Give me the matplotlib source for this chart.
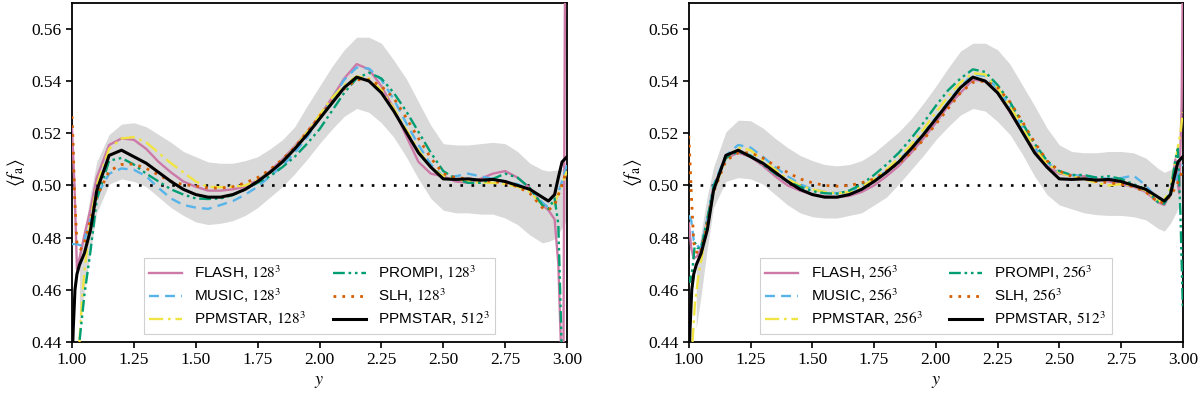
import matplotlib
matplotlib.use("Agg")
import matplotlib.pyplot as plt

# shared x grid (interior), per-series head/tail points near the boundaries
Y_GRID = [1.10, 1.15, 1.20, 1.25, 1.30, 1.35, 1.40, 1.45, 1.50, 1.55, 1.60, 1.65,
          1.70, 1.75, 1.80, 1.85, 1.90, 1.95, 2.00, 2.05, 2.10, 2.15, 2.20, 2.25,
          2.30, 2.35, 2.40, 2.45, 2.50, 2.55, 2.60, 2.65, 2.70, 2.75, 2.80, 2.85, 2.90]

# ---- PPMSTAR 512^3 reference (both panels)
ref_head_y = [1.0, 1.005, 1.012, 1.02, 1.03, 1.05, 1.075]
ref_head_f = [0.43, 0.445, 0.46, 0.466, 0.4695, 0.474, 0.483]
ref_mid_f = [0.498, 0.5115, 0.5135, 0.511, 0.5085, 0.505, 0.5015, 0.4985, 0.4965, 0.4955,
             0.4955, 0.4965, 0.4985, 0.5015, 0.505, 0.509, 0.514, 0.5195, 0.5255, 0.5315,
             0.5375, 0.5415, 0.540, 0.5355, 0.5285, 0.5205, 0.5125, 0.507, 0.5025, 0.5023,
             0.5025, 0.502, 0.5023, 0.5015, 0.500, 0.4985, 0.4955]
ref_tail_y = [2.925, 2.95, 2.965, 2.98, 3.0]
ref_tail_f = [0.494, 0.4965, 0.503, 0.509, 0.511]

# ---- 128^3 panel
flash128_head_y = [1.0, 1.01, 1.02, 1.03, 1.05, 1.075]
flash128_head_f = [0.522, 0.50, 0.468, 0.472, 0.481, 0.491]
flash128_mid_f = [0.503, 0.5155, 0.518, 0.5175, 0.514, 0.509, 0.505, 0.5015, 0.4995, 0.498,
                  0.498, 0.4985, 0.4995, 0.502, 0.5055, 0.510, 0.515, 0.5205, 0.5265, 0.5335,
                  0.541, 0.5465, 0.5445, 0.538, 0.5295, 0.519, 0.509, 0.5045, 0.5035, 0.5015,
                  0.501, 0.5025, 0.5045, 0.5055, 0.503, 0.499, 0.4925]
flash128_tail_y = [2.925, 2.95, 2.965, 2.975, 2.985, 2.993, 3.0]
flash128_tail_f = [0.4905, 0.487, 0.47, 0.44, 0.42, 0.60, 0.60]

music128_head_y = [1.0, 1.01, 1.02, 1.035, 1.05, 1.075]
music128_head_f = [0.4775, 0.4775, 0.4775, 0.477, 0.479, 0.487]
music128_mid_f = [0.496, 0.5045, 0.5065, 0.506, 0.5035, 0.499, 0.495, 0.4925, 0.4915, 0.491,
                  0.4925, 0.494, 0.4965, 0.4995, 0.5035, 0.5075, 0.5125, 0.5185, 0.5255, 0.533,
                  0.5405, 0.5452, 0.5448, 0.5405, 0.533, 0.524, 0.5155, 0.508, 0.5035, 0.5035,
                  0.5045, 0.5035, 0.5025, 0.5015, 0.5005, 0.4985, 0.4935]
music128_tail_y = [2.925, 2.95, 2.975, 3.0]
music128_tail_f = [0.4915, 0.4935, 0.500, 0.508]

ppm128_head_y = [1.03, 1.04, 1.05, 1.075]
ppm128_head_f = [0.44, 0.455, 0.467, 0.487]
ppm128_mid_f = [0.500, 0.514, 0.518, 0.5185, 0.5165, 0.5125, 0.5085, 0.505, 0.5015, 0.4995,
                0.4993, 0.4995, 0.500, 0.502, 0.505, 0.509, 0.5145, 0.5205, 0.527, 0.5335,
                0.5385, 0.5418, 0.541, 0.5365, 0.5295, 0.5215, 0.5135, 0.507, 0.5035, 0.5025,
                0.5015, 0.501, 0.501, 0.5005, 0.4995, 0.4975, 0.4925]
ppm128_tail_y = [2.925, 2.95, 2.975, 3.0]
ppm128_tail_f = [0.491, 0.4935, 0.499, 0.5055]

prompi128_head_y = [1.02, 1.03, 1.05, 1.075]
prompi128_head_f = [0.43, 0.44, 0.458, 0.475]
prompi128_mid_f = [0.4945, 0.5095, 0.5105, 0.508, 0.5045, 0.5015, 0.4985, 0.4965, 0.495, 0.4948,
                   0.495, 0.4963, 0.4985, 0.501, 0.5035, 0.507, 0.511, 0.516, 0.5215, 0.5285,
                   0.5355, 0.541, 0.5432, 0.541, 0.5355, 0.5285, 0.5205, 0.5125, 0.5055, 0.5025,
                   0.501, 0.501, 0.5025, 0.5045, 0.503, 0.499, 0.4925]
prompi128_tail_y = [2.925, 2.95, 2.965, 2.975, 2.98, 3.0]
prompi128_tail_f = [0.491, 0.495, 0.485, 0.45, 0.43, 0.43]

slh128_head_y = [1.0, 1.005, 1.01, 1.02, 1.035, 1.05, 1.075]
slh128_head_f = [0.5265, 0.515, 0.497, 0.478, 0.4755, 0.478, 0.487]
slh128_mid_f = [0.4955, 0.5055, 0.508, 0.5082, 0.5065, 0.504, 0.5015, 0.5003, 0.4998, 0.499,
                0.499, 0.4995, 0.501, 0.503, 0.506, 0.510, 0.5145, 0.5205, 0.5265, 0.532,
                0.537, 0.5405, 0.5405, 0.538, 0.5335, 0.526, 0.518, 0.5105, 0.5045, 0.503,
                0.5025, 0.502, 0.5015, 0.501, 0.4995, 0.497, 0.4915]
slh128_tail_y = [2.925, 2.95, 2.975, 3.0]
slh128_tail_f = [0.4905, 0.4925, 0.499, 0.506]

band128_head_y = [1.03, 1.05, 1.075]
band128_tail_y = [2.925, 2.95, 2.975, 3.0]
band128_hi = [0.472, 0.482, 0.497,
              0.509, 0.5195, 0.5235, 0.524, 0.5225, 0.5195, 0.5165, 0.513, 0.511, 0.509,
              0.5085, 0.5085, 0.5095, 0.511, 0.514, 0.5175, 0.5225, 0.5305, 0.538, 0.5455,
              0.552, 0.5568, 0.5568, 0.5545, 0.548, 0.541, 0.532, 0.523, 0.516, 0.5155,
              0.5155, 0.516, 0.5165, 0.516, 0.513, 0.5085, 0.506,
              0.5055, 0.5058, 0.506, 0.508]
band128_lo = [0.447, 0.46, 0.475,
              0.4895, 0.5005, 0.5025, 0.5015, 0.4995, 0.4955, 0.4915, 0.4885, 0.486, 0.485,
              0.4855, 0.4865, 0.4885, 0.4915, 0.4955, 0.4995, 0.5045, 0.510, 0.516, 0.5215,
              0.5265, 0.5295, 0.528, 0.524, 0.5185, 0.511, 0.5025, 0.495, 0.4905, 0.4895,
              0.4895, 0.489, 0.489, 0.4875, 0.485, 0.481, 0.478,
              0.4785, 0.4795, 0.483, 0.487]

# ---- 256^3 panel
flash256_head_y = [1.0, 1.01, 1.02, 1.035, 1.05, 1.075]
flash256_head_f = [0.4855, 0.476, 0.472, 0.473, 0.476, 0.487]
flash256_mid_f = [0.4995, 0.5105, 0.5125, 0.511, 0.5075, 0.5035, 0.500, 0.498, 0.4965, 0.4958,
                  0.4955, 0.496, 0.4975, 0.500, 0.5035, 0.5075, 0.5125, 0.518, 0.524, 0.5305,
                  0.5355, 0.5405, 0.540, 0.5355, 0.528, 0.5205, 0.5135, 0.5075, 0.5045, 0.504,
                  0.5035, 0.5025, 0.5015, 0.5005, 0.4995, 0.4975, 0.4935]
flash256_tail_y = [2.925, 2.95, 2.97, 2.985, 2.995, 3.0]
flash256_tail_f = [0.4925, 0.497, 0.510, 0.497, 0.53, 0.58]

music256_head_y = [1.0, 1.01, 1.02, 1.03, 1.04, 1.05, 1.075]
music256_head_f = [0.4885, 0.4865, 0.479, 0.4785, 0.476, 0.4765, 0.487]
music256_mid_f = [0.500, 0.5115, 0.5155, 0.5145, 0.511, 0.507, 0.5035, 0.5005, 0.4985, 0.4975,
                  0.497, 0.498, 0.4995, 0.502, 0.5055, 0.5095, 0.5145, 0.520, 0.526, 0.532,
                  0.538, 0.5425, 0.542, 0.537, 0.5305, 0.5225, 0.5145, 0.509, 0.505, 0.504,
                  0.5035, 0.503, 0.5025, 0.5028, 0.5038, 0.500, 0.4945]
music256_tail_y = [2.925, 2.95, 2.975, 3.0]
music256_tail_f = [0.4935, 0.497, 0.503, 0.508]

ppm256_head_y = [1.015, 1.025, 1.04, 1.05, 1.075]
ppm256_head_f = [0.44, 0.455, 0.466, 0.471, 0.486]
ppm256_mid_f = [0.4975, 0.5105, 0.5145, 0.5135, 0.5095, 0.506, 0.5025, 0.500, 0.4985, 0.4975,
                0.497, 0.4975, 0.4995, 0.5025, 0.506, 0.5105, 0.5155, 0.5215, 0.528, 0.534,
                0.5395, 0.543, 0.5425, 0.5375, 0.5305, 0.5225, 0.5145, 0.5085, 0.505, 0.5035,
                0.5025, 0.501, 0.500, 0.5005, 0.500, 0.498, 0.494]
ppm256_tail_y = [2.925, 2.95, 2.975, 2.99, 3.0]
ppm256_tail_f = [0.4945, 0.499, 0.512, 0.520, 0.528]

prompi256_head_y = [1.0, 1.005, 1.015, 1.025, 1.035, 1.05, 1.075]
prompi256_head_f = [0.465, 0.463, 0.468, 0.478, 0.476, 0.476, 0.487]
prompi256_mid_f = [0.4995, 0.5105, 0.513, 0.5115, 0.508, 0.5045, 0.5015, 0.4995, 0.4978, 0.497,
                   0.4968, 0.498, 0.5005, 0.504, 0.508, 0.5125, 0.518, 0.524, 0.5305, 0.5365,
                   0.541, 0.5445, 0.5435, 0.5385, 0.532, 0.524, 0.516, 0.5095, 0.5055, 0.504,
                   0.504, 0.503, 0.5035, 0.5025, 0.5005, 0.4985, 0.4935]
prompi256_tail_y = [2.925, 2.95, 2.97, 2.98, 2.99, 3.0]
prompi256_tail_f = [0.493, 0.4975, 0.510, 0.514, 0.49, 0.453]

slh256_head_y = [1.0, 1.005, 1.01, 1.02, 1.035, 1.05, 1.075]
slh256_head_f = [0.519, 0.509, 0.497, 0.478, 0.4735, 0.475, 0.485]
slh256_mid_f = [0.4975, 0.5095, 0.5125, 0.5125, 0.5105, 0.5075, 0.505, 0.5025, 0.501, 0.500,
                0.4997, 0.500, 0.501, 0.5025, 0.5055, 0.5085, 0.5125, 0.5175, 0.5235, 0.5295,
                0.5355, 0.5395, 0.540, 0.5375, 0.532, 0.5245, 0.5165, 0.5095, 0.5055, 0.5035,
                0.5025, 0.5015, 0.501, 0.5005, 0.4995, 0.4975, 0.4935]
slh256_tail_y = [2.925, 2.95, 2.975, 3.0]
slh256_tail_f = [0.4935, 0.496, 0.500, 0.506]

band256_head_y = [1.03, 1.05, 1.075]
band256_tail_y = [2.925, 2.95, 2.975, 3.0]
band256_hi = [0.47, 0.482, 0.496,
              0.507, 0.5205, 0.525, 0.5248, 0.522, 0.518, 0.5145, 0.5115, 0.5095, 0.508,
              0.5075, 0.508, 0.5095, 0.5125, 0.5165, 0.5205, 0.5255, 0.5315, 0.538, 0.545,
              0.5515, 0.5545, 0.5545, 0.552, 0.5465, 0.5385, 0.5305, 0.522, 0.5155, 0.513,
              0.5125, 0.5125, 0.513, 0.513, 0.5125, 0.5105, 0.5065,
              0.505, 0.506, 0.508, 0.51]
band256_lo = [0.445, 0.458, 0.476,
              0.4915, 0.5015, 0.503, 0.5025, 0.5005, 0.4965, 0.4925, 0.4895, 0.488, 0.4875,
              0.4875, 0.4885, 0.4895, 0.4925, 0.4955, 0.5005, 0.506, 0.5115, 0.5175, 0.5225,
              0.527, 0.5295, 0.5285, 0.5245, 0.5195, 0.512, 0.5035, 0.4965, 0.4925, 0.491,
              0.4895, 0.4888, 0.4885, 0.4885, 0.488, 0.4868, 0.4835,
              0.4825, 0.4855, 0.490, 0.495]

X_TICKS = [1.00, 1.25, 1.50, 1.75, 2.00, 2.25, 2.50, 2.75, 3.00]
Y_TICKS = [0.44, 0.46, 0.48, 0.50, 0.52, 0.54, 0.56]

plt.rcParams['font.family'] = ['Liberation Serif', 'DejaVu Serif']
plt.rcParams['mathtext.fontset'] = 'stix'


def series(hy, hf, mf, ty, tf):
    return hy + Y_GRID + ty, hf + mf + tf


def draw_panel(ax, res, curves, band_hy, band_ty, band_hi, band_lo):
    by = band_hy + Y_GRID + band_ty
    ax.fill_between(by, band_lo, band_hi, color='#d9d9d9', lw=0, zorder=1)
    ax.axhline(0.5, color='black', ls=(0, (1, 3.2)), lw=1.9, zorder=2)

    styles = [
        ('FLASH', '#CC79A7', '-', 1.7),
        ('MUSIC', '#56B4E9', (0, (4.2, 2.6)), 1.7),
        ('PPMSTAR', '#F0E442', (0, (6, 2, 1.2, 2)), 1.7),
        ('PROMPI', '#009E73', (0, (5, 1.6, 1.1, 1.6, 1.1, 1.6)), 1.7),
        ('SLH', '#D55E00', (0, (1, 2.2)), 2.0),
    ]
    for (name, col, ls, lw), (yy, ff) in zip(styles, curves):
        ax.plot(yy, ff, color=col, ls=ls, lw=lw, zorder=3,
                label=f'{name}, ${res}^3$')
    ry, rf = series(ref_head_y, ref_head_f, ref_mid_f, ref_tail_y, ref_tail_f)
    ax.plot(ry, rf, color='black', lw=2.2, zorder=4, label='PPMSTAR, $512^3$')

    ax.set_xlim(1.0, 3.0)
    ax.set_ylim(0.44, 0.57)
    ax.set_xticks(X_TICKS)
    ax.set_xticklabels([f'{t:.2f}' for t in X_TICKS])
    ax.set_yticks(Y_TICKS)
    ax.set_yticklabels([f'{t:.2f}' for t in Y_TICKS])
    ax.tick_params(direction='out', length=4, width=1.2, labelsize=12.5, colors='black')
    for sp in ax.spines.values():
        sp.set_linewidth(1.3)
    ax.set_xlabel('$y$', fontsize=13, labelpad=3)
    ax.set_ylabel(r'$\langle f_{\mathrm{a}} \rangle$', fontsize=14, labelpad=3)

    leg = ax.legend(loc='lower center', bbox_to_anchor=(0.5, 0.02), ncol=2,
                    prop={'family': 'Liberation Sans', 'size': 11},
                    fancybox=False, framealpha=1, edgecolor='#d0d0d0',
                    handlelength=2.15, handletextpad=0.8, columnspacing=1.75,
                    borderpad=0.35, labelspacing=0.3, borderaxespad=0.1)
    leg.get_frame().set_linewidth(0.8)


fig = plt.figure(figsize=(12, 3.99), dpi=100)
ax1 = fig.add_axes([0.06, 0.143, 0.4125, 0.85])
ax2 = fig.add_axes([0.574, 0.143, 0.4117, 0.85])

curves128 = [
    series(flash128_head_y, flash128_head_f, flash128_mid_f, flash128_tail_y, flash128_tail_f),
    series(music128_head_y, music128_head_f, music128_mid_f, music128_tail_y, music128_tail_f),
    series(ppm128_head_y, ppm128_head_f, ppm128_mid_f, ppm128_tail_y, ppm128_tail_f),
    series(prompi128_head_y, prompi128_head_f, prompi128_mid_f, prompi128_tail_y, prompi128_tail_f),
    series(slh128_head_y, slh128_head_f, slh128_mid_f, slh128_tail_y, slh128_tail_f),
]
curves256 = [
    series(flash256_head_y, flash256_head_f, flash256_mid_f, flash256_tail_y, flash256_tail_f),
    series(music256_head_y, music256_head_f, music256_mid_f, music256_tail_y, music256_tail_f),
    series(ppm256_head_y, ppm256_head_f, ppm256_mid_f, ppm256_tail_y, ppm256_tail_f),
    series(prompi256_head_y, prompi256_head_f, prompi256_mid_f, prompi256_tail_y, prompi256_tail_f),
    series(slh256_head_y, slh256_head_f, slh256_mid_f, slh256_tail_y, slh256_tail_f),
]

draw_panel(ax1, 128, curves128, band128_head_y, band128_tail_y, band128_hi, band128_lo)
draw_panel(ax2, 256, curves256, band256_head_y, band256_tail_y, band256_hi, band256_lo)

fig.savefig('out.png', dpi=100)
plt.close(fig)
